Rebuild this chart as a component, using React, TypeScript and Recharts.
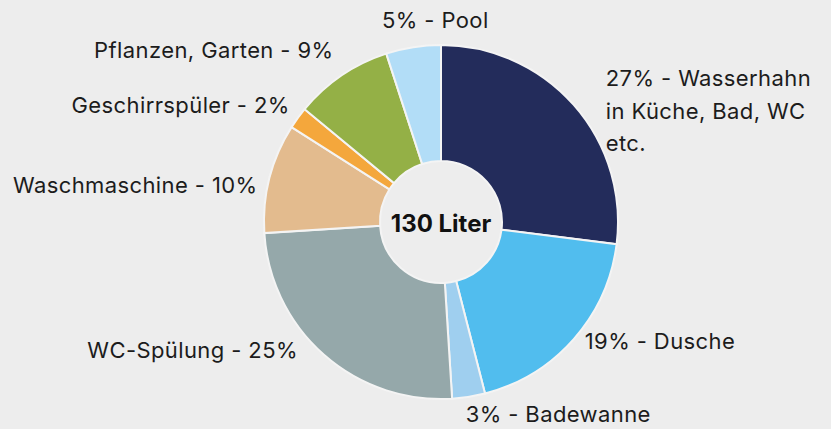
import React from 'react';
import { PieChart, Pie, Cell } from 'recharts';

// Wasserverbrauch pro Person und Tag
const categories = [
  'Wasserhahn in Küche, Bad, WC etc.',
  'Dusche',
  'Badewanne',
  'WC-Spülung',
  'Waschmaschine',
  'Geschirrspüler',
  'Pflanzen, Garten',
  'Pool',
];
const shares = [27, 19, 3, 25, 10, 2, 9, 5];
const labelLines = [
  ['27% - Wasserhahn', 'in Küche, Bad, WC', 'etc.'],
  ['19% - Dusche'],
  ['3% - Badewanne'],
  ['WC-Spülung - 25%'],
  ['Waschmaschine - 10%'],
  ['Geschirrspüler - 2%'],
  ['Pflanzen, Garten - 9%'],
  ['5% - Pool'],
];
const totalLabel = '130 Liter';

const COLORS = ['#232c5b', '#51bdee', '#9fcfef', '#95a8aa', '#e3bb8e', '#f4a73c', '#94b046', '#b2ddf7'];

// label placement relative to the outer edge at each slice's middle
const LABEL_LAYOUT: { anchor: 'start' | 'middle' | 'end'; dx: number; dy: number }[] = [
  { anchor: 'start', dx: 32, dy: 6 },
  { anchor: 'start', dx: 11, dy: 2 },
  { anchor: 'start', dx: -3, dy: 17 },
  { anchor: 'end', dx: -26, dy: -5 },
  { anchor: 'end', dx: -12, dy: 7 },
  { anchor: 'end', dx: -8, dy: -13 },
  { anchor: 'end', dx: -8, dy: -26 },
  { anchor: 'middle', dx: 22, dy: -27 },
];

const FONT = 'Inter, "Noto Sans", sans-serif';
const LINE_H = 32.5;

const data = categories.map((name, i) => ({ name, value: shares[i] }));

const renderLabel = (props: any) => {
  const { cx, cy, midAngle, outerRadius, index } = props;
  const rad = (-midAngle * Math.PI) / 180;
  const lay = LABEL_LAYOUT[index];
  const x = cx + outerRadius * Math.cos(rad) + lay.dx;
  const y = cy + outerRadius * Math.sin(rad) + lay.dy;
  const lines = labelLines[index];
  const mid = (lines.length - 1) / 2;
  return (
    <text
      key={`lbl-${index}`}
      x={x}
      y={y}
      textAnchor={lay.anchor}
      dominantBaseline="central"
      fill="#1c1c1c"
      fontFamily={FONT}
      fontSize={22}
      letterSpacing={0.4}
    >
      {lines.map((l, j) => (
        <tspan key={j} x={x} y={y + (j - mid) * LINE_H} dominantBaseline="central">
          {l}
        </tspan>
      ))}
    </text>
  );
};

export default function App() {
  return (
    <div style={{ position: 'fixed', left: 0, top: 0, width: 831, height: 429, background: '#ededed' }}>
      <PieChart width={831} height={429} margin={{ top: 0, right: 0, bottom: 0, left: 0 }}>
        <Pie
          data={data}
          dataKey="value"
          nameKey="name"
          cx={441}
          cy={222}
          innerRadius={61}
          outerRadius={177}
          startAngle={90}
          endAngle={-270}
          stroke="#f4f4f4"
          strokeWidth={2}
          label={renderLabel}
          labelLine={false}
          isAnimationActive={false}
        >
          {data.map((d, i) => (
            <Cell key={`cell-${i}`} fill={COLORS[i]} />
          ))}
        </Pie>
        <text
          x={441}
          y={223}
          textAnchor="middle"
          dominantBaseline="central"
          fontFamily={FONT}
          fontWeight={700}
          fontSize={24}
          fill="#111"
        >
          {totalLabel}
        </text>
      </PieChart>
    </div>
  );
}
